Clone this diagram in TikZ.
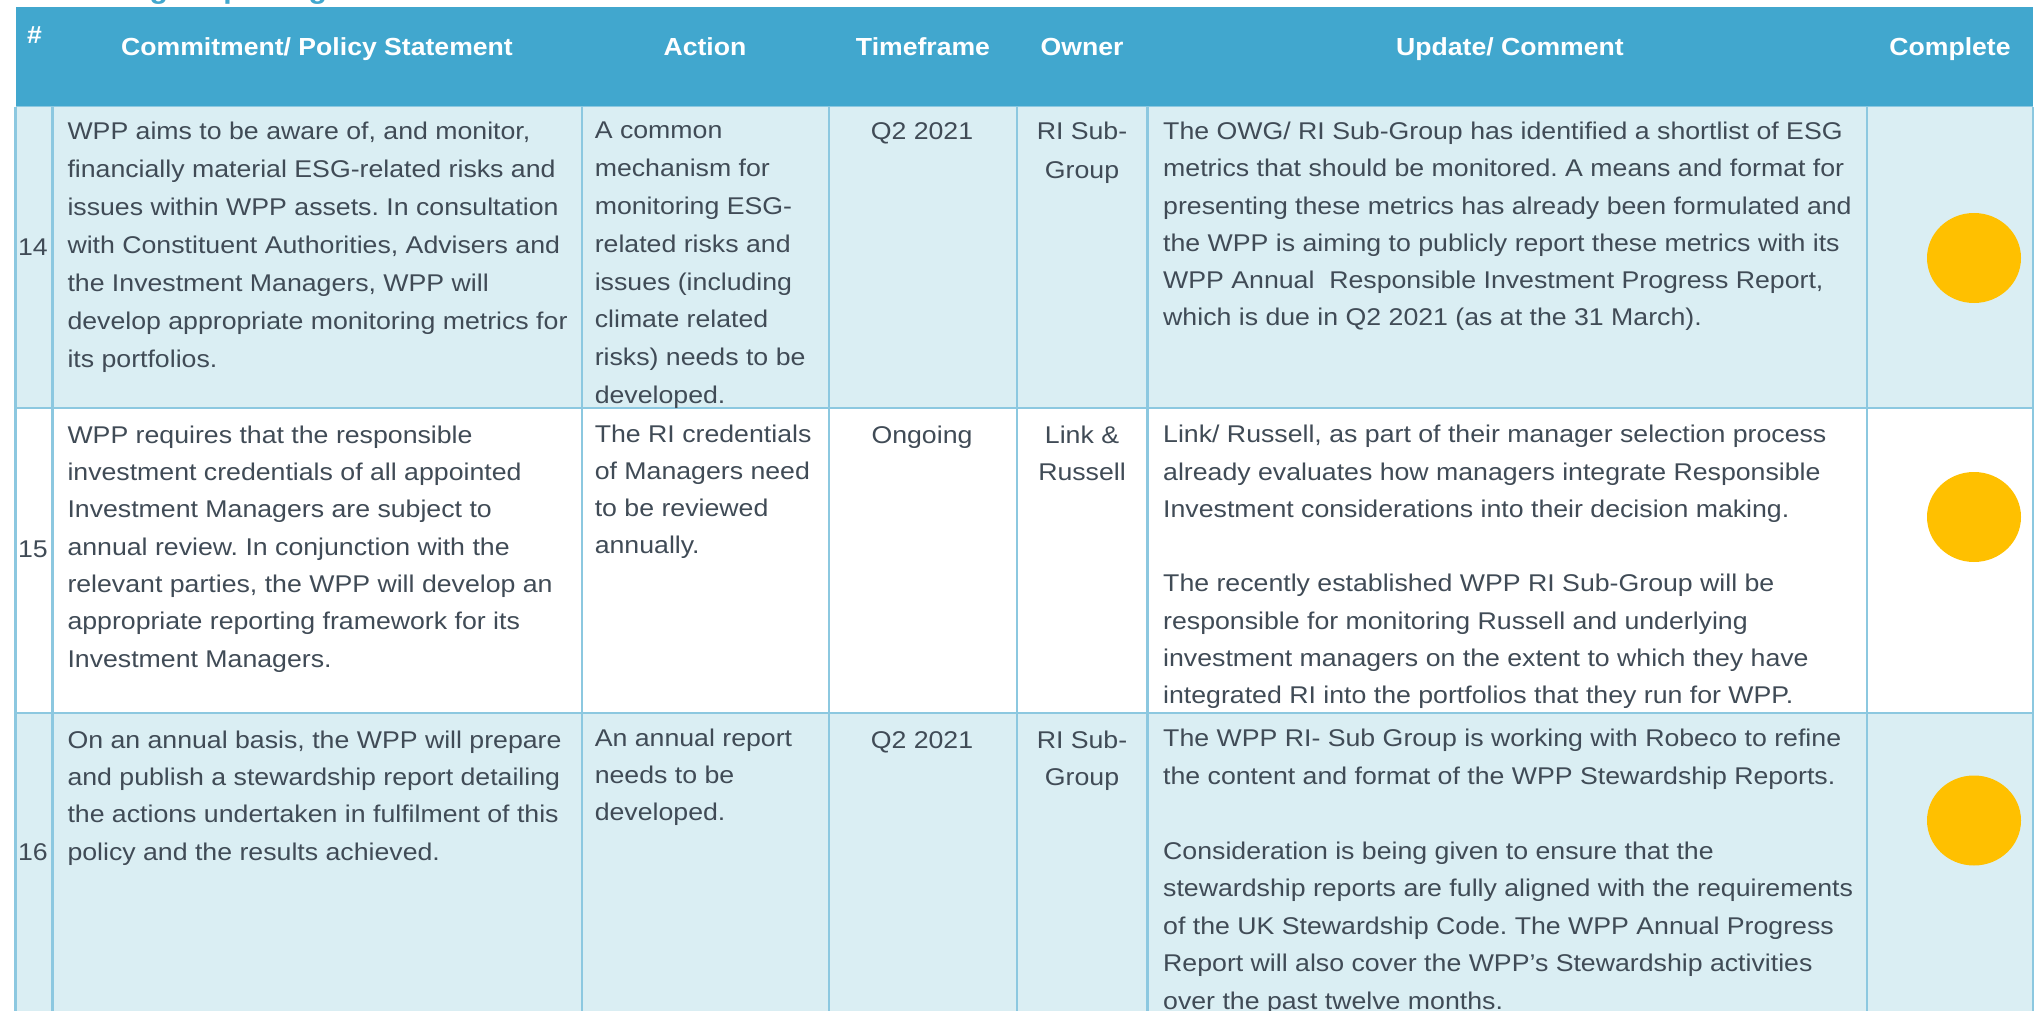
\documentclass[tikz,border=0pt]{standalone}
\usepackage{fontspec}
\setmainfont{Liberation Sans}
\newfontfamily\bodyfont[FakeStretch=1.103]{Liberation Sans}
\newfontfamily\headfont[FakeStretch=1.077]{Liberation Sans}
\usetikzlibrary{shapes.geometric}
\definecolor{headblue}{HTML}{41A7CE}
\definecolor{rowblue}{HTML}{DAEEF3}
\definecolor{bordercol}{HTML}{8CC8E0}
\definecolor{txt}{HTML}{404B56}
\definecolor{dotcol}{HTML}{FFC000}
\frenchspacing
\newcommand{\ltxt}[2]{\parbox[t]{#1}{\raggedright #2}}
\newcommand{\ctxt}[2]{\parbox[t]{#1}{\centering #2}}
\tikzset{
  body/.style={inner sep=0pt, text=txt, font=\bodyfont\fontsize{24.2pt}{#1}\selectfont},
  body/.default=37.3pt,
  lcell/.style={body=#1, anchor=base west},
  lcell/.default=37.3pt,
  ccell/.style={body=#1, anchor=base},
  ccell/.default=37.3pt,
  numcell/.style={body, anchor=base east},
  headtxt/.style={inner sep=0pt, anchor=base, text=white, font=\headfont\bfseries\fontsize{24.7pt}{30pt}\selectfont},
  gridline/.style={draw=bordercol, line width=2.6pt},
  dotmark/.style={ellipse, fill=dotcol, draw=none, inner sep=0pt, minimum width=94pt, minimum height=90pt},
}
\begin{document}
\begin{tikzpicture}[x=1pt,y=-1pt]
\useasboundingbox (0,0) rectangle (2040,1011);
\clip (0,0) rectangle (2040,1011);
% title (cut off at the top)
\node[inner sep=0pt, anchor=base west, text=headblue, font=\headfont\bfseries\fontsize{28pt}{32pt}\selectfont] (title) at (12,-1.5) {Monitoring/ Reporting};
% header
\fill[headblue] (15.6,7) rectangle (2033,107);
% rows
\fill[rowblue] (15.6,107) rectangle (2033,408);
\fill[white] (15.6,408) rectangle (2033,713);
\fill[rowblue] (15.6,713) rectangle (2033,1020);
% grid
\foreach \x in {15.6,52.5,582,829,1017,1147.5,1867,2033}
  \draw[gridline] (\x,107) -- (\x,1020);
\foreach \y in {408,713}
  \draw[gridline] (15.6,\y) -- (2033,\y);
\draw[gridline, line width=1pt] (15.6,107) -- (2033,107);
% header texts
\node[headtxt] (hnum) at (34.5,44) {\#};
\node[headtxt] (hcommit) at (317,56) {Commitment/ Policy Statement};
\node[headtxt] (haction) at (705,56) {Action};
\node[headtxt] (htime) at (923,56) {Timeframe};
\node[headtxt] (howner) at (1082,56) {Owner};
\node[headtxt] (hupdate) at (1510,56) {Update/ Comment};
\node[headtxt] (hcomplete) at (1950,56) {Complete};
% row 14
\node[numcell] (n14) at (48,255.5) {14};
\node[lcell=38pt] (c14) at (67.3,139.7) {\ltxt{515pt}{WPP aims to be aware of, and monitor,\\financially material ESG-related risks and\\issues within WPP assets. In consultation\\with Constituent Authorities, Advisers and\\the Investment Managers, WPP will\\develop appropriate monitoring metrics for\\its portfolios.}};
\node[lcell=37.8pt] (a14) at (594.6,139) {\ltxt{232pt}{A common\\mechanism for\\monitoring ESG-\\related risks and\\issues (including\\climate related\\risks) needs to be\\developed.}};
\node[ccell] (t14) at (922,139.7) {\ctxt{180pt}{Q2 2021}};
\node[ccell=38.5pt] (o14) at (1082,139.7) {\ctxt{125pt}{RI Sub-\\Group}};
\node[lcell] (u14) at (1163,139.5) {\ltxt{700pt}{The OWG/ RI Sub-Group has identified a shortlist of ESG\\metrics that should be monitored. A means and format for\\presenting these metrics has already been formulated and\\the WPP is aiming to publicly report these metrics with its\\WPP Annual\ \ Responsible Investment Progress Report,\\which is due in Q2 2021 (as at the 31 March).}};
\node[dotmark] (d14) at (1974,258) {};
% row 15
\node[numcell] (n15) at (48,557) {15};
\node[lcell] (c15) at (67.3,443.3) {\ltxt{515pt}{WPP requires that the responsible\\investment credentials of all appointed\\Investment Managers are subject to\\annual review. In conjunction with the\\relevant parties, the WPP will develop an\\appropriate reporting framework for its\\Investment Managers.}};
\node[lcell] (a15) at (594.6,442) {\ltxt{232pt}{The RI credentials\\of Managers need\\to be reviewed\\annually.}};
\node[ccell] (t15) at (922,443.3) {\ctxt{180pt}{Ongoing}};
\node[ccell] (o15) at (1082,443.3) {\ctxt{125pt}{Link \&\\Russell}};
\node[lcell] (u15) at (1163,442.7) {\ltxt{700pt}{Link/ Russell, as part of their manager selection process\\already evaluates how managers integrate Responsible\\Investment considerations into their decision making.\\[37.3pt]The recently established WPP RI Sub-Group will be\\responsible for monitoring Russell and underlying\\investment managers on the extent to which they have\\integrated RI into the portfolios that they run for WPP.}};
\node[dotmark] (d15) at (1974,517) {};
% row 16
\node[numcell] (n16) at (48,860) {16};
\node[lcell] (c16) at (67.3,748.3) {\ltxt{515pt}{On an annual basis, the WPP will prepare\\and publish a stewardship report detailing\\the actions undertaken in fulfilment of this\\policy and the results achieved.}};
\node[lcell] (a16) at (594.6,746) {\ltxt{232pt}{An annual report\\needs to be\\developed.}};
\node[ccell] (t16) at (922,748) {\ctxt{180pt}{Q2 2021}};
\node[ccell] (o16) at (1082,748) {\ctxt{125pt}{RI Sub-\\Group}};
\node[lcell=37.5pt] (u16) at (1163,746.5) {\ltxt{700pt}{The WPP RI- Sub Group is working with Robeco to refine\\the content and format of the WPP Stewardship Reports.\\[37.5pt]Consideration is being given to ensure that the\\stewardship reports are fully aligned with the requirements\\of the UK Stewardship Code. The WPP Annual Progress\\Report will also cover the WPP’s Stewardship activities\\over the past twelve months.}};
\node[dotmark] (d16) at (1974,820.5) {};
\end{tikzpicture}
\end{document}
